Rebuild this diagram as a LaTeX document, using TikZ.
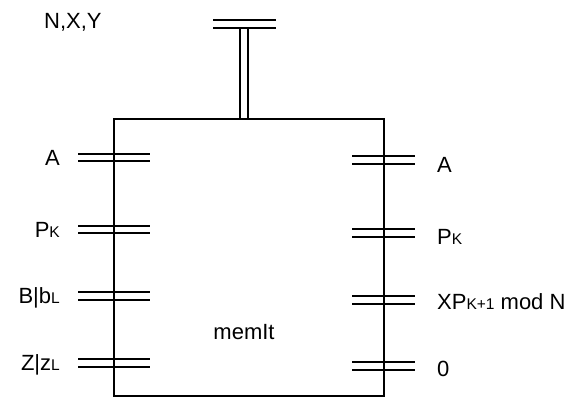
\documentclass[tikz,border=0pt]{standalone}
\usepackage{fontspec}
\setmainfont{Liberation Sans}
\usetikzlibrary{positioning}
\tikzset{
  port/.style={double, double distance=5.4pt, line width=2pt},
  lbl/.style={inner sep=0pt, text height=15pt, text depth=0pt, font=\fontsize{22}{25}\selectfont},
}
\newcommand{\low}[1]{{\fontsize{15.5}{17}\selectfont #1}}
\begin{document}
\begin{tikzpicture}[x=1pt,y=-1pt]
	    \useasboundingbox (0,0) rectangle (577,400);
	    % ports
	    \foreach \y/\p in {157.5/la,229.5/lp,296/lb,363/lz}
		\draw[port] (78,\y) coordinate (\p w) -- (150,\y) coordinate (\p e);
	    \foreach \y/\p in {160/ra,233/rp,300/rx,366/rz}
		\draw[port] (352,\y) coordinate (\p w) -- (415,\y) coordinate (\p e);
		
	    \node[draw, line width=2pt, minimum width=270pt, minimum height=277pt, anchor=north west] (box) at (113,118) {};
	    \node[lbl] (name) at (244,332) {memIt};
		
	    % top
	    \coordinate (stem) at (244,24);
	    \draw[port] (box.north -| stem) -- (stem);
	    \draw[port] (213,24) coordinate (tw) -- (276,24) coordinate (te);
	    \node[lbl, anchor=west] (nxy) at (44,21) {N,X,Y};
		
	    \node[lbl, left=18pt of law] (la) {A};
	    \node[lbl, left=18pt of lpw] (lp) {P\low{K}};
	    \node[lbl, left=18pt of lbw] (lb) {B|b\low{L}};
	    \node[lbl, left=18pt of lzw] (lz) {Z|z\low{L}};
	    \node[lbl, right=22pt of rae, yshift=-5pt] (ra) {A};
	    \node[lbl, right=22pt of rpe, yshift=-4pt] (rp) {P\low{K}};
	    \node[lbl, right=22pt of rxe, yshift=-2pt] (rx) {XP\low{K+1} mod N};
	    \node[lbl, right=22pt of rze, yshift=-3pt] (rz) {0};
	\end{tikzpicture}
\end{document}
